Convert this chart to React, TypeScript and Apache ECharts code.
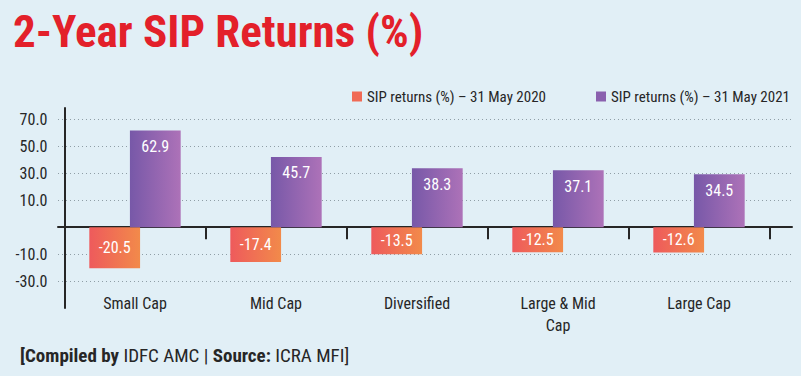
import React, { useEffect, useRef } from "react";
import * as echarts from "echarts";

const categories = ["Small Cap", "Mid Cap", "Diversified", "Large & Mid\nCap", "Large Cap"];
const returns2020 = [-20.5, -17.4, -13.5, -12.5, -12.6];
const returns2021 = [62.9, 45.7, 38.3, 37.1, 34.5];
const seriesNames = ["SIP returns (%) – 31 May 2020", "SIP returns (%) – 31 May 2021"];
// gridline positions; the original graphic labels them as below
const gridValues = [-35, -17.5, 0, 17.5, 35, 52.5, 70];
const gridLabels = ["-30.0", "-10.0", "", "10.0", "30.0", "50.0", "70.0"];

const NARROW = "'Liberation Sans Narrow', 'Roboto Condensed', 'Liberation Sans', sans-serif";
const BG = "#e1eff6";
const DARK = "#262626";

export default function App() {
  const ref = useRef<HTMLDivElement>(null);
  useEffect(() => {
    if (!ref.current) return;
    const chart = echarts.init(ref.current, undefined, { renderer: "svg" });
    const yMin = -52.5;
    const yMax = 77.5;
    // the original draws the negative (2020) bars on a slightly larger scale
    const negScale = 0.77;
    const labelFor = (v: number) => {
      const i = gridValues.findIndex((g) => Math.abs(g - v) < 0.01);
      return i >= 0 ? gridLabels[i] : "";
    };
    const orange = new echarts.graphic.LinearGradient(0, 0, 1, 0, [
      { offset: 0, color: "#ee5a5c" },
      { offset: 1, color: "#f28a4a" },
    ]);
    const purple = new echarts.graphic.LinearGradient(0, 0, 1, 0, [
      { offset: 0, color: "#7758a8" },
      { offset: 1, color: "#ad72b8" },
    ]);
    chart.setOption({
      animation: false,
      backgroundColor: BG,
      title: {
        text: "2-Year SIP Returns (%)",
        left: 8,
        top: 4,
        textStyle: { color: "#e3202a", fontSize: 45, fontWeight: "bold", fontFamily: NARROW },
      },
      legend: {
        left: 347,
        top: 84,
        itemWidth: 10,
        itemHeight: 10,
        itemGap: 50,
        icon: "rect",
        textStyle: { fontSize: 15, color: DARK, fontFamily: NARROW },
        data: [
          { name: seriesNames[0], itemStyle: { color: "#f06a55" } },
          { name: seriesNames[1], itemStyle: { color: "#8a60ae" } },
        ],
      },
      grid: [
        { left: 64.5, right: 31.5, top: 108, bottom: 68 },
        { left: 58, right: 9, top: 108, bottom: 68 },
      ],
      xAxis: [
        {
          type: "category",
          gridIndex: 0,
          data: categories,
          axisLine: { show: false, onZero: true },
          axisTick: { show: true, length: 12, lineStyle: { color: DARK, width: 2 } },
          axisLabel: { show: false },
          splitLine: { show: false },
        },
        {
          type: "category",
          gridIndex: 0,
          data: categories,
          position: "bottom",
          offset: -18,
          axisLine: { show: false, onZero: false },
          axisTick: { show: false },
          axisLabel: { show: true, fontSize: 16, lineHeight: 22, color: DARK, fontFamily: NARROW, margin: 2 },
          splitLine: { show: false },
        },
        {
          type: "value",
          gridIndex: 1,
          min: 0,
          max: 1,
          axisLine: { show: true, onZero: true, lineStyle: { color: DARK, width: 2 } },
          axisTick: { show: false },
          axisLabel: { show: false },
          splitLine: { show: false },
        },
      ],
      yAxis: [
        {
          type: "value",
          min: yMin,
          max: yMax,
          interval: 17.5,
          gridIndex: 0,
          axisLine: { show: true, lineStyle: { color: DARK, width: 2 } },
          axisTick: { show: false },
          axisLabel: {
            formatter: labelFor,
            fontSize: 16,
            color: DARK,
            fontFamily: NARROW,
            margin: 17,
            showMinLabel: false,
            showMaxLabel: false,
          },
          splitLine: { show: false },
        },
        {
          type: "value",
          min: yMin,
          max: yMax,
          interval: 17.5,
          gridIndex: 1,
          axisLine: { show: false },
          axisTick: { show: false },
          axisLabel: { show: false },
          splitLine: {
            show: true,
            showMinLine: false,
            showMaxLine: false,
            lineStyle: { color: "#8f9ea6", width: 1, type: [1, 3] },
          },
        },
        {
          type: "value",
          min: yMin * negScale,
          max: yMax * negScale,
          gridIndex: 0,
          show: false,
          splitLine: { show: false },
        },
      ],
      series: [
        {
          name: seriesNames[0],
          type: "bar",
          xAxisIndex: 0,
          yAxisIndex: 2,
          data: returns2020,
          barWidth: "36%",
          barGap: "-20%",
          itemStyle: { color: orange },
          label: {
            show: true,
            position: "inside",
            color: "#ffffff",
            fontSize: 16,
            fontFamily: NARROW,
            formatter: (p: any) => p.value.toFixed(1),
          },
        },
        {
          name: seriesNames[1],
          type: "bar",
          xAxisIndex: 0,
          yAxisIndex: 0,
          data: returns2021,
          barWidth: "36%",
          barGap: "-20%",
          itemStyle: { color: purple },
          label: {
            show: true,
            position: "insideTop",
            distance: 8,
            color: "#ffffff",
            fontSize: 16,
            fontFamily: NARROW,
            formatter: (p: any) => p.value.toFixed(1),
          },
        },
      ],
      graphic: [
        {
          type: "text",
          left: 20,
          top: 346,
          style: {
            text: "{b|[Compiled by }{n|IDFC AMC }{n|| }{b|Source: }{n|ICRA MFI]}",
            rich: {
              b: { fontSize: 19, fontWeight: "bold", fill: DARK, fontFamily: NARROW },
              n: { fontSize: 19, fill: DARK, fontFamily: NARROW },
            },
          },
        },
      ],
    });
    return () => chart.dispose();
  }, []);
  return <div ref={ref} style={{ position: "absolute", left: 0, top: 0, width: 801, height: 376 }} />;
}
